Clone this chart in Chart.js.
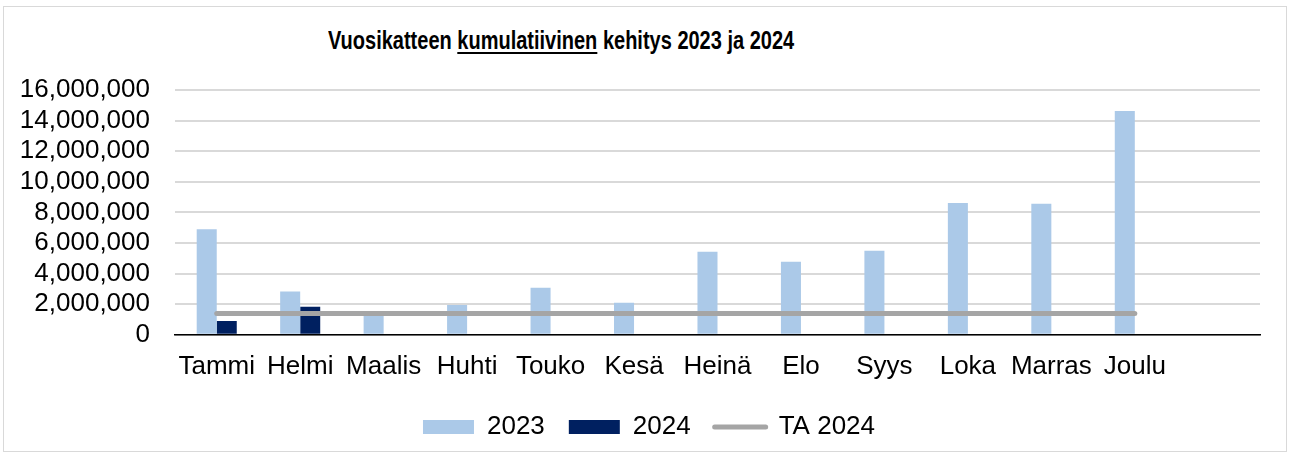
<!DOCTYPE html>
<html lang="fi">
<head>
<meta charset="UTF-8">
<title>Vuosikatteen kumulatiivinen kehitys 2023 ja 2024</title>
<script src="https://cdn.jsdelivr.net/npm/chart.js"></script>
<style>
  html, body { margin: 0; padding: 0; background: #fff; }
  body { width: 1290px; height: 455px; position: relative; overflow: hidden; font-family: "Liberation Sans", Arial, sans-serif; }
  .frame {
    position: absolute; left: 3px; top: 6px; width: 1284px; height: 446px;
    border: 1px solid #d9d9d9; box-sizing: border-box;
  }
  .title {
    position: absolute; left: 328px; top: 25px; white-space: nowrap;
    font-family: "Liberation Sans", Arial, sans-serif;
    font-weight: bold; font-size: 25px; color: #000; line-height: 30px;
    transform: scaleX(0.8); transform-origin: left center;
  }
  .title u { text-decoration-thickness: 2px; text-underline-offset: 3px; }
  #chart { position: absolute; left: 0; top: 0; }
</style>
</head>
<body>
<div class="frame"></div>
<div class="title">Vuosikatteen <u>kumulatiivinen</u> kehitys 2023 ja 2024</div>
<canvas id="chart" width="1290" height="455"></canvas>
<script>
// data
const months = ['Tammi', 'Helmi', 'Maalis', 'Huhti', 'Touko', 'Kesä', 'Heinä', 'Elo', 'Syys', 'Loka', 'Marras', 'Joulu', ''];
const values2023 = [6900000, 2830000, 1250000, 1940000, 3070000, 2090000, 5420000, 4770000, 5490000, 8620000, 8560000, 14630000, null];
const values2024 = [910000, 1830000, null, null, null, null, null, null, null, null, null, null, null];
const ta2024 = [1390000, 1390000, 1390000, 1390000, 1390000, 1390000, 1390000, 1390000, 1390000, 1390000, 1390000, 1390000, null];
const yTicks = [0, 2000000, 4000000, 6000000, 8000000, 10000000, 12000000, 14000000, 16000000];

const font = { family: '"Liberation Sans", Arial, sans-serif', size: 26 };

// legend sits a bit right of the canvas centre in the original
const shiftLegend = {
  id: 'shiftLegend',
  afterLayout(chart) {
    chart.legend.left += 19;
    chart.legend.right += 19;
  }
};

new Chart(document.getElementById('chart'), {
  type: 'bar',
  data: {
    labels: months,
    datasets: [
      {
        label: '2023',
        data: values2023,
        backgroundColor: '#abc9e8',
        barPercentage: 1,
        categoryPercentage: 0.48,
        order: 1
      },
      {
        label: '2024',
        data: values2024,
        backgroundColor: '#002060',
        barPercentage: 1,
        categoryPercentage: 0.48,
        order: 1
      },
      {
        type: 'line',
        label: 'TA 2024',
        data: ta2024,
        borderColor: '#a5a5a5',
        backgroundColor: '#a5a5a5',
        borderWidth: 5,
        borderCapStyle: 'round',
        pointRadius: 0,
        order: 0
      }
    ]
  },
  options: {
    responsive: false,
    animation: false,
    layout: { padding: { top: 90, left: 0, right: 30, bottom: 5 } },
    plugins: {
      title: { display: false },
      tooltip: { enabled: false },
      legend: {
        position: 'bottom',
        labels: {
          color: '#000',
          font: font,
          usePointStyle: true,
          pointStyleWidth: 51,
          boxHeight: 14,
          padding: 24,
          sort: (a, b) => a.datasetIndex - b.datasetIndex,
          generateLabels(chart) {
            const items = Chart.defaults.plugins.legend.labels.generateLabels(chart);
            return items.map(it => {
              if (it.datasetIndex === 2) {
                it.pointStyle = 'line';
                it.lineWidth = 5;
                it.lineCap = 'round';
                it.strokeStyle = '#a5a5a5';
              } else {
                it.pointStyle = 'rect';
                it.lineWidth = 0;
              }
              return it;
            });
          }
        }
      }
    },
    scales: {
      x: {
        grid: { display: false },
        border: { color: '#000', width: 1.5 },
        ticks: { color: '#000', font: font, padding: 8, maxRotation: 0, autoSkip: false }
      },
      y: {
        min: 0,
        max: 16000000,
        afterBuildTicks(axis) { axis.ticks = yTicks.map(v => ({ value: v })); },
        afterFit(axis) { axis.width = 175; },
        grid: { color: '#d9d9d9', lineWidth: 2, drawTicks: false },
        border: { display: false },
        ticks: {
          color: '#000',
          font: font,
          padding: 25,
          autoSkip: false,
          callback: v => v.toLocaleString('en-US')
        }
      }
    }
  },
  plugins: [shiftLegend]
});
</script>
</body>
</html>
